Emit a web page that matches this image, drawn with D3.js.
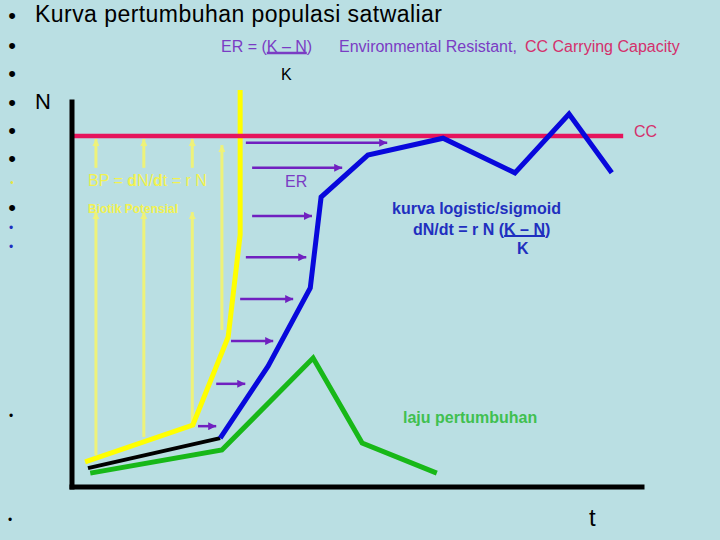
<!DOCTYPE html>
<html><head><meta charset="utf-8">
<script src="https://cdn.jsdelivr.net/npm/d3@7"></script>
<style>html,body{margin:0;padding:0;background:#badfe3;} svg{display:block;font-family:"Liberation Sans",Arial,sans-serif;}</style>
</head><body><svg id="c" width="720" height="540"></svg>
<script>
// ---------- data (time t, population N, both in 0..100 units) ----------
const capacityK = 91.2;          // carrying capacity line
const capacityEndT = 96.7;
const exponentialT = [2.3, 21.2, 27.4, 29.5, 29.5];
const exponentialN = [6.5, 16.1, 39.0, 65.5, 103.1];
const lagT = [2.8, 26.0];
const lagN = [4.9, 12.7];
const logisticT = [26.0, 34.4, 41.8, 43.7, 51.9, 65.1, 77.7, 87.2, 94.7];
const logisticN = [12.7, 31.4, 51.7, 75.3, 86.2, 90.6, 81.6, 96.9, 81.6];
const rateT = [3.2, 26.3, 42.3, 50.9, 64.0];
const rateN = [3.6, 9.6, 33.5, 11.4, 3.6];
// biotic potential arrows (vertical)
const bpArrowT = [4.2, 12.6, 21.1];
const bpArrowBaseN = [8.3, 13.0, 16.1];
const bpLowerTipN = 71.4, bpUpperBaseN = 82.9, bpUpperTipN = 90.4;
const bpLongT = 26.3, bpLongBaseN = 40.8, bpLongTipN = 88.8;
// environmental resistance arrows (horizontal)
const erArrowN = [89.4, 82.9, 70.4, 59.7, 48.8, 37.9, 26.8, 15.8];
const erArrowStartT = [30.5, 31.6, 31.6, 30.5, 29.5, 27.9, 25.3, 22.1];
const erArrowEndT = [55.3, 47.4, 42.1, 41.1, 38.8, 35.3, 30.4, 25.3];

// ---------- drawing ----------
const svg = d3.select("#c");
const x = d3.scaleLinear().domain([0, 100]).range([72, 642]);
const y = d3.scaleLinear().domain([0, 100]).range([487, 102]);
const line = d3.line().x(d => x(d[0])).y(d => y(d[1]));
const zip = (a, b) => a.map((v, i) => [v, b[i]]);

svg.append("rect").attr("width", 720).attr("height", 540).attr("fill", "#badfe3");

const defs = svg.append("defs");
function marker(id, color, w, h) {
  defs.append("marker").attr("id", id).attr("markerUnits", "userSpaceOnUse")
    .attr("viewBox", "0 0 10 10").attr("refX", 10).attr("refY", 5)
    .attr("markerWidth", w).attr("markerHeight", h).attr("orient", "auto")
    .append("path").attr("d", "M0,0L10,5L0,10z").attr("fill", color);
}
marker("ap", "#7020c0", 10, 8);
marker("ay", "#eef27a", 8, 7);

const FONT = '"Liberation Sans", Arial, sans-serif';
function txt(s, px, py, size, color, weight) {
  return svg.append("text").attr("x", px).attr("y", py).attr("font-size", size)
    .attr("fill", color).attr("font-weight", weight || "normal")
    .attr("dominant-baseline", "central").text(s);
}

// bullets
[15, 45, 73, 102, 130, 158, 207].forEach(by =>
  txt("•", 12, by, 22, "#000").attr("text-anchor", "middle"));
txt("•", 12, 182, 10, "#e6e640").attr("text-anchor", "middle");
[228, 247].forEach(by => txt("•", 11, by, 12, "#1f2fbf").attr("text-anchor", "middle"));
txt("•", 11, 416, 12, "#000").attr("text-anchor", "middle");
txt("•", 10, 520, 12, "#000").attr("text-anchor", "middle");

// title and texts
txt("Kurva pertumbuhan populasi satwaliar", 35, 14, 23, "#000").attr("textLength", 407).attr("lengthAdjust", "spacing");
txt("N", 35, 101, 22, "#000");
const er = txt("ER = (K – N)", 221, 46, 16, "#7a3cc4");
txt("Environmental Resistant,", 339, 46, 16, "#7a3cc4");
txt("CC Carrying Capacity", 525, 46, 16, "#d4306c");
txt("K", 281, 74, 16, "#000");
txt("CC", 634, 131, 16, "#d4306c");
txt("ER", 285, 181, 16, "#7a3cc4");

function underline(t, i0, i1, dy, color, w) {
  const n = t.node();
  const a = n.getStartPositionOfChar(i0), b = n.getEndPositionOfChar(i1);
  svg.append("line").attr("x1", a.x).attr("x2", b.x).attr("y1", +t.attr("y") + dy).attr("y2", +t.attr("y") + dy)
    .attr("stroke", color).attr("stroke-width", w);
}
underline(er, 6, 10, 7, "#7a3cc4", 2.5);

// thin biotic potential arrows
bpArrowT.forEach((t, i) => {
  svg.append("line").attr("x1", x(t)).attr("x2", x(t)).attr("y1", y(bpArrowBaseN[i])).attr("y2", y(bpLowerTipN))
    .attr("stroke", "#eef27a").attr("stroke-width", 3).attr("marker-end", "url(#ay)");
  svg.append("line").attr("x1", x(t)).attr("x2", x(t)).attr("y1", y(bpUpperBaseN)).attr("y2", y(bpUpperTipN))
    .attr("stroke", "#eef27a").attr("stroke-width", 3).attr("marker-end", "url(#ay)");
});
svg.append("line").attr("x1", x(bpLongT)).attr("x2", x(bpLongT)).attr("y1", y(bpLongBaseN)).attr("y2", y(bpLongTipN))
  .attr("stroke", "#eef27a").attr("stroke-width", 3).attr("marker-end", "url(#ay)");

// curves
svg.append("path").attr("d", line(zip(exponentialT, exponentialN))).attr("fill", "none")
  .attr("stroke", "#ffff00").attr("stroke-width", 5);
svg.append("line").attr("x1", x(0)).attr("x2", x(capacityEndT)).attr("y1", y(capacityK)).attr("y2", y(capacityK))
  .attr("stroke", "#e6145c").attr("stroke-width", 4.5);
svg.append("path").attr("d", line(zip(lagT, lagN))).attr("fill", "none")
  .attr("stroke", "#000").attr("stroke-width", 4);
svg.append("path").attr("d", line(zip(logisticT, logisticN))).attr("fill", "none")
  .attr("stroke", "#0808dc").attr("stroke-width", 5);
svg.append("path").attr("d", line(zip(rateT, rateN))).attr("fill", "none")
  .attr("stroke", "#18b818").attr("stroke-width", 5);

// ER arrows
erArrowN.forEach((n, i) => {
  svg.append("line").attr("x1", x(erArrowStartT[i])).attr("x2", x(erArrowEndT[i]))
    .attr("y1", y(n)).attr("y2", y(n)).attr("stroke", "#7020c0").attr("stroke-width", 2.5)
    .attr("marker-end", "url(#ap)");
});

// axes
svg.append("line").attr("x1", x(0)).attr("x2", x(0)).attr("y1", y(0)).attr("y2", y(100))
  .attr("stroke", "#000").attr("stroke-width", 5).attr("stroke-linecap", "square");
svg.append("line").attr("x1", x(0)).attr("x2", x(100)).attr("y1", y(0)).attr("y2", y(0))
  .attr("stroke", "#000").attr("stroke-width", 5).attr("stroke-linecap", "square");

// yellow annotations
const bp = svg.append("text").attr("x", 88).attr("y", 180).attr("font-size", 16).attr("fill", "#f2f250")
  .attr("dominant-baseline", "central");
[["BP = ", "normal"], ["d", "bold"], ["N/", "normal"], ["d", "bold"], ["t = r N", "normal"]].forEach(p =>
  bp.append("tspan").attr("font-weight", p[1]).text(p[0]));
txt("Biotik Potensial", 88, 209, 12, "#f2f250", "bold");

// blue annotations
txt("kurva logistic/sigmoid", 392, 208, 16, "#1f2fbf", "bold");
const lg = txt("dN/dt = r N (K – N)", 413, 229, 16, "#1f2fbf", "bold");
underline(lg, 13, 17, 7, "#1f2fbf", 2);
txt("K", 517, 248, 16, "#1f2fbf", "bold");

// green annotation
txt("laju pertumbuhan", 403, 417, 16, "#40c050", "bold");
txt("t", 589, 517, 24, "#000");
</script></body></html>
